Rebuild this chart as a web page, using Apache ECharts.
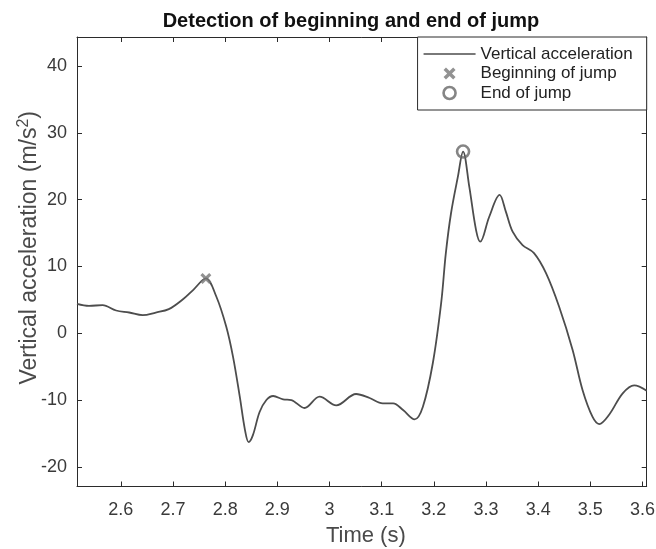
<!DOCTYPE html>
<html>
<head>
<meta charset="utf-8">
<script src="https://cdn.jsdelivr.net/npm/echarts@6/dist/echarts.min.js"></script>
<style>
html,body{margin:0;padding:0;background:#fff;}
#chart{width:656px;height:549px;}
</style>
</head>
<body>
<div id="chart"></div>
<script>
// ---- data ----
const times = [2.516, 2.539, 2.565, 2.591, 2.616, 2.642, 2.667, 2.692, 2.718, 2.739, 2.763, 2.783, 2.802, 2.815, 2.828, 2.838, 2.845, 2.853, 2.866, 2.879, 2.892, 2.911, 2.927, 2.952, 2.981, 3.013, 3.051, 3.077, 3.102, 3.122, 3.141, 3.163, 3.179, 3.198, 3.214, 3.223, 3.233, 3.246, 3.256, 3.268, 3.281, 3.289, 3.306, 3.326, 3.338, 3.351, 3.370, 3.392, 3.415, 3.440, 3.466, 3.485, 3.504, 3.517, 3.536, 3.562, 3.584, 3.608];
const accel = [4.4, 4.1, 4.2, 3.4, 3.1, 2.7, 3.1, 3.6, 5.0, 6.5, 8.2, 5.5, 1.0, -3.5, -9.5, -14.5, -16.3, -15.3, -11.8, -10.0, -9.4, -9.9, -10.0, -11.2, -9.5, -10.8, -9.1, -9.7, -10.5, -10.5, -11.5, -12.9, -11.0, -4.5, 4.5, 12.0, 18.0, 23.4, 27.2, 21.9, 15.4, 13.7, 17.4, 20.7, 18.2, 15.2, 13.2, 12.0, 9.0, 4.0, -2.5, -8.5, -12.5, -13.6, -12.2, -9.0, -7.8, -8.6];
const beginPoint = [2.763, 8.2];
const endPoint = [3.256, 27.2];
const xTicks = [2.6, 2.7, 2.8, 2.9, 3.0, 3.1, 3.2, 3.3, 3.4, 3.5, 3.6];
const yTicks = [-20, -10, 0, 10, 20, 30, 40];
const seriesNames = ['Vertical acceleration', 'Beginning of jump', 'End of jump'];

const xPath = 'path://M0,2 L2,0 L5,3 L8,0 L10,2 L7,5 L10,8 L8,10 L5,7 L2,10 L0,8 L3,5 Z';
const lineData = times.map((t, i) => [t, accel[i]]);

const axisColor = '#2b2b2b';
const font = 'Liberation Sans, Arial, Helvetica, sans-serif';

const chart = echarts.init(document.getElementById('chart'), null, {renderer: 'canvas'});
const option = {
  backgroundColor: '#ffffff',
  animation: false,
  title: {
    text: 'Detection of beginning and end of jump',
    left: 346, top: 6, textAlign: 'center',
    textStyle: {fontFamily: font, fontSize: 20, fontWeight: 'bold', color: '#111'}
  },
  grid: {left: 77, right: 9.3, top: 37, bottom: 62.5, containLabel: false, outerBoundsMode: 'none'},
  legend: {
    orient: 'vertical', right: 9.3, top: 37,
    backgroundColor: '#fff', borderColor: axisColor, borderWidth: 1,
    padding: [8.5, 14, 8.5, 6], itemWidth: 52, itemHeight: 12, itemGap: 2.5,
    textStyle: {fontFamily: font, fontSize: 17, color: '#222'},
    data: [
      {name: seriesNames[0], icon: 'path://M0,0 L52,0 L52,1.6 L0,1.6 Z', itemStyle: {color: '#4d4d4d'}},
      {name: seriesNames[1], icon: xPath, itemStyle: {color: '#777'}},
      {name: seriesNames[2], icon: 'circle', itemStyle: {color: 'rgba(0,0,0,0)', borderColor: '#666', borderWidth: 2.6}}
    ]
  },
  xAxis: [{
    type: 'value', min: 2.516, max: 3.608,
    name: 'Time (s)', nameLocation: 'middle', nameGap: 38, nameMoveOverlap: false,
    nameTextStyle: {fontFamily: font, fontSize: 22, color: '#4a4a4a', padding: [0, 0, 0, 8]},
    axisLine: {show: true, onZero: false, lineStyle: {color: axisColor, width: 1}},
    axisTick: {show: true, inside: true, length: 5, customValues: xTicks, lineStyle: {color: axisColor}},
    axisLabel: {customValues: xTicks, margin: 15, fontFamily: font, fontSize: 18, color: '#3a3a3a',
      formatter: v => (Math.round(v * 10) / 10).toString()},
    splitLine: {show: false}
  }, {
    type: 'value', position: 'top', min: 2.516, max: 3.608,
    axisLine: {show: true, onZero: false, lineStyle: {color: axisColor, width: 1}},
    axisTick: {show: true, inside: true, length: 5, customValues: xTicks, lineStyle: {color: axisColor}},
    axisLabel: {show: false}, splitLine: {show: false}
  }],
  yAxis: [{
    type: 'value', min: -22.95, max: 44.35,
    name: 'Vertical acceleration (m/s{sup|2})', nameLocation: 'middle', nameGap: 33, nameMoveOverlap: false,
    nameTextStyle: {fontFamily: font, fontSize: 23, color: '#4a4a4a', padding: [0, 0, 0, 28],
      rich: {sup: {fontFamily: font, fontSize: 16, color: '#4a4a4a', verticalAlign: 'top', padding: [0, 0, 12, 0]}}},
    axisLine: {show: true, onZero: false, lineStyle: {color: axisColor, width: 1}},
    axisTick: {show: true, inside: true, length: 5, customValues: yTicks, lineStyle: {color: axisColor}},
    axisLabel: {customValues: yTicks, margin: 10, fontFamily: font, fontSize: 18, color: '#3a3a3a'},
    splitLine: {show: false}
  }, {
    type: 'value', position: 'right', min: -22.95, max: 44.35,
    axisLine: {show: true, onZero: false, lineStyle: {color: axisColor, width: 1}},
    axisTick: {show: true, inside: true, length: 5, customValues: yTicks, lineStyle: {color: axisColor}},
    axisLabel: {show: false}, splitLine: {show: false}
  }],
  series: [{
    name: seriesNames[0], type: 'line', data: lineData, smooth: 0.35,
    symbol: 'none', lineStyle: {color: '#4d4d4d', width: 1.8}, z: 2
  }, {
    name: seriesNames[1], type: 'scatter', data: [beginPoint],
    symbol: xPath, symbolSize: 11, itemStyle: {color: '#777'}, z: 5
  }, {
    name: seriesNames[2], type: 'scatter', data: [endPoint],
    symbol: 'circle', symbolSize: 12,
    itemStyle: {color: 'rgba(0,0,0,0)', borderColor: '#666', borderWidth: 2.6}, z: 5
  }]
};
chart.setOption(option);
</script>
</body>
</html>
